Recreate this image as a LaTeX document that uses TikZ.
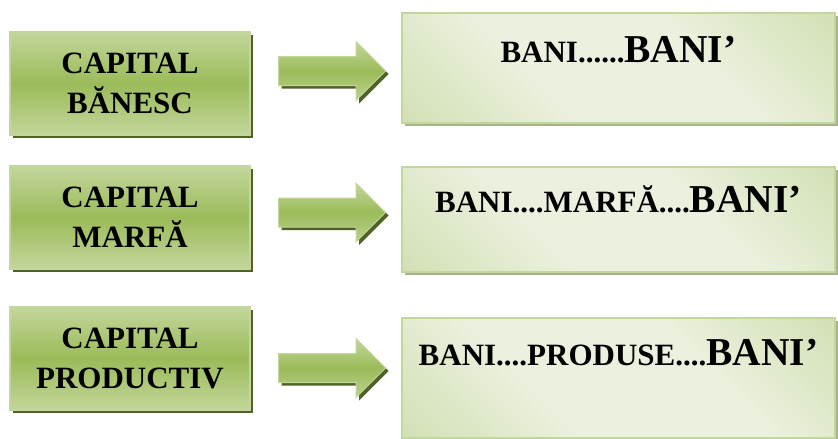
\documentclass[tikz,border=0pt]{standalone}
\usepackage{fontspec}
\setmainfont{Liberation Serif}
\usetikzlibrary{shapes.arrows, shadows}

\definecolor{leafgreen}{HTML}{9BBB59}
\definecolor{palegreen}{HTML}{C3D69B}
\definecolor{mist}{HTML}{EBF1DE}
\definecolor{darkolive}{HTML}{4F6228}
\definecolor{greyshadow}{HTML}{A7B38F}

\pgfdeclarehorizontalshading{sheen}{100bp}{color(0bp)=(palegreen); color(38bp)=(mist); color(62bp)=(mist); color(100bp)=(palegreen)}

\newcommand{\smalltxt}{\fontsize{31}{37}\selectfont}
\newcommand{\bigbani}{{\fontsize{39.5}{44}\selectfont BANI’}}

\tikzset{
  capbox/.style={draw=palegreen, line width=1.5pt, top color=palegreen, bottom color=palegreen, middle color=leafgreen,
    minimum width=240pt, minimum height=103pt, inner sep=0pt, align=center,
    font=\bfseries\fontsize{31}{40}\selectfont,
    drop shadow={shadow xshift=3pt, shadow yshift=-3pt, fill=darkolive, opacity=1}},
  flowarrow/.style={single arrow, draw=palegreen, line width=1pt, top color=palegreen, bottom color=palegreen!80!leafgreen, middle color=leafgreen,
    minimum height=107pt, inner xsep=0pt, inner ysep=14pt, single arrow head extend=15pt, anchor=tail,
    drop shadow={shadow xshift=3pt, shadow yshift=-3pt, fill=darkolive, opacity=1}},
  circbox/.style={draw=palegreen, line width=1.5pt, shading=sheen, shading angle=45,
    minimum width=433pt, inner xsep=0pt, inner ysep=0pt, font=\bfseries\smalltxt,
    drop shadow={shadow xshift=3pt, shadow yshift=-3pt, fill=greyshadow, opacity=1}}
}

\begin{document}
\begin{tikzpicture}[x=1pt, y=-1pt]

    \useasboundingbox (0,0) rectangle (838,439);

    % forms of capital
    \node (capmoney) [capbox] at (130,83.5) {CAPITAL\\BĂNESC};
    \node (capgoods) [capbox] at (130,217.5) {CAPITAL\\MARFĂ};
    \node (capprod) [capbox] at (130,358.5) {CAPITAL\\PRODUCTIV};

    \foreach \y [count=\i] in {71,212.5,368}
    \node (arr\i) [flowarrow] at (278,\y) {};

    % circuits
    \node (circmoney) [circbox, text height=49pt, text depth=61pt] at (618.5,68) {BANI......\bigbani};
    \node (circgoods) [circbox, text height=45pt, text depth=60pt] at (618.5,219.5) {BANI....MARFĂ....\bigbani};
    \node (circprod) [circbox, text height=47pt, text depth=73pt] at (618.5,378) {BANI....PRODUSE....\bigbani};

\end{tikzpicture}
\end{document}
